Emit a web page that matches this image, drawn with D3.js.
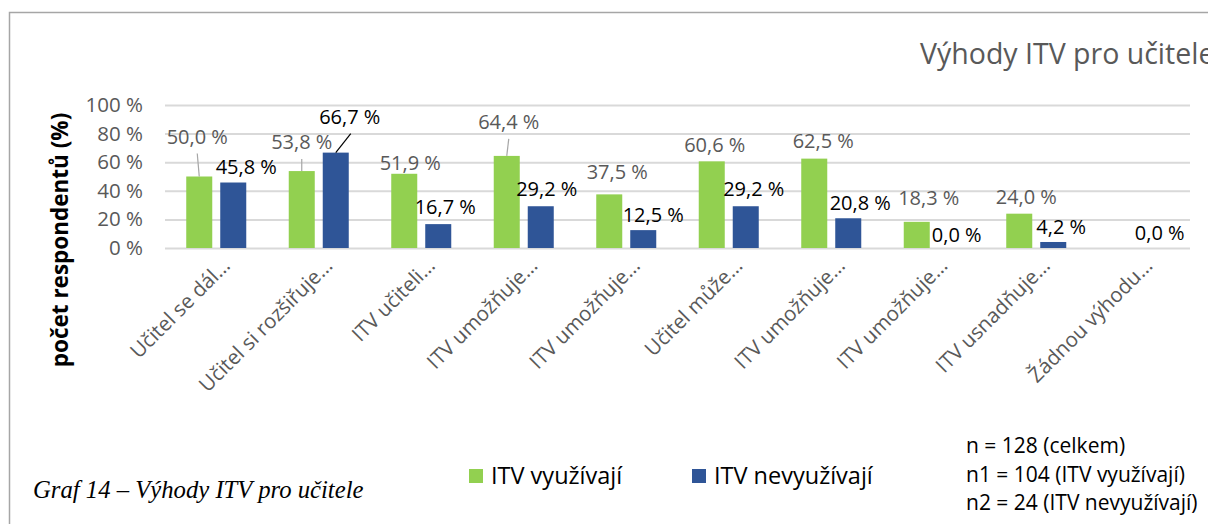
<!DOCTYPE html>
<html>
<head>
<meta charset="utf-8">
<script src="https://cdn.jsdelivr.net/npm/d3@7"></script>
<style>
  body { margin: 0; background: #fff; }
  svg { display: block; font-family: "Open Sans", "Noto Sans", sans-serif; }
</style>
</head>
<body>
<div id="chart"></div>
<script>
// data
var categories = ["Učitel se dál…", "Učitel si rozšiřuje…", "ITV učiteli…", "ITV umožňuje…",
    "ITV umožňuje…", "Učitel může…", "ITV umožňuje…", "ITV umožňuje…", "ITV usnadňuje…", "Žádnou výhodu…"];
var usersValues = [50.0, 53.8, 51.9, 64.4, 37.5, 60.6, 62.5, 18.3, 24.0, null];
var nonUsersValues = [45.8, 66.7, 16.7, 29.2, 12.5, 29.2, 20.8, 0.0, 4.2, 0.0];
var seriesNames = ["ITV využívají", "ITV nevyužívají"];
var yTicks = [0, 20, 40, 60, 80, 100];
var notes = ["n = 128 (celkem)", "n1 = 104 (ITV využívají)", "n2 = 24 (ITV nevyužívají)"];

// label placement (center of label relative to the bar top), like the hand-moved Excel labels
var usersLabelShift = [[-2, -40], [0, -29], [6, -11], [2, -34], [8, -22], [3, -16], [9, -18], [12, -24], [7, -17], [0, 0]];
var nonUsersLabelShift = [[13, -16], [14, -36], [7, -17], [6, -17], [10, -15], [8, -17], [12, -15], [6, -13], [8, -15], [4, -15]];
var usersLeader = [true, true, false, true, false, false, false, false, false, false];
var nonUsersLeader = [false, true, false, false, false, false, false, false, false, false];

var svgWidth = 1208;
var svgHeight = 524;
var green = "#92D050";
var blue = "#2F5597";

var svg = d3.select("#chart")
    .append("svg")
    .attr("width", svgWidth)
    .attr("height", svgHeight);

// chart frame (cut off on right and bottom)
svg.append("rect")
    .attr("x", 9.5)
    .attr("y", 12.5)
    .attr("width", 1400)
    .attr("height", 700)
    .attr("fill", "none")
    .attr("stroke", "#a6a6a6")
    .attr("stroke-width", 1.5);

var x0 = d3.scaleBand()
    .domain(d3.range(categories.length))
    .range([165, 1190]);

var x1 = d3.scaleBand()
    .domain([0, 1])
    .range([0, x0.bandwidth()])
    .paddingInner(0.235)
    .paddingOuter(0.625);

var y = d3.scaleLinear()
    .domain([0, 100])
    .range([248, 105]);

// gridlines
var yAxis = d3.axisLeft(y)
    .tickValues(yTicks)
    .tickSize(-(1190 - 165))
    .tickPadding(22)
    .tickFormat(d => d + " %");

var yg = svg.append("g")
    .attr("transform", "translate(165,0)")
    .call(yAxis);
yg.select(".domain").remove();
yg.selectAll(".tick line").attr("stroke", "#d9d9d9").attr("stroke-width", 2);
yg.selectAll(".tick text")
    .attr("fill", "#595959")
    .style("font-size", "20.5px")
    .style("font-family", "'Open Sans', sans-serif");

// bars
var series = [usersValues, nonUsersValues];
var colors = [green, blue];
series.forEach(function (vals, s) {
    svg.append("g").selectAll("rect")
        .data(vals.map((v, i) => ({ v: v, i: i })).filter(d => d.v !== null))
        .enter()
        .append("rect")
        .attr("x", d => x0(d.i) + x1(s))
        .attr("y", d => y(d.v))
        .attr("width", x1.bandwidth())
        .attr("height", d => y(0) - y(d.v))
        .attr("fill", colors[s]);
});

// data labels
var fmt = v => v.toFixed(1).replace(".", ",") + " %";
var shifts = [usersLabelShift, nonUsersLabelShift];
var leaders = [usersLeader, nonUsersLeader];
var labelColors = ["#595959", "#000"];
series.forEach(function (vals, s) {
    vals.forEach(function (v, i) {
        if (v === null) return;
        var bx = x0(i) + x1(s) + x1.bandwidth() / 2;
        var by = y(v);
        var lx = bx + shifts[s][i][0];
        var ly = by + shifts[s][i][1];
        if (leaders[s][i]) {
            svg.append("line")
                .attr("x1", s === 1 ? lx + 1 : lx)
                .attr("y1", ly + 17)
                .attr("x2", bx)
                .attr("y2", by)
                .attr("stroke", s === 1 ? "#000" : "#a6a6a6")
                .attr("stroke-width", 1.2);
        }
        svg.append("text")
            .attr("x", lx)
            .attr("y", ly)
            .attr("dy", "0.35em")
            .attr("text-anchor", "middle")
            .attr("fill", labelColors[s])
            .style("font-size", "20px")
            .text(fmt(v));
    });
});

// category labels
svg.append("g").selectAll("text")
    .data(categories)
    .enter()
    .append("text")
    .attr("transform", (d, i) => `translate(${x0(i) + x0.bandwidth() / 2 + 15}, 267) rotate(-45)`)
    .attr("text-anchor", "end")
    .attr("fill", "#595959")
    .style("font-size", "20.5px")
    .text(d => d);

// axis title
svg.append("text")
    .attr("transform", "translate(60, 240) rotate(-90)")
    .attr("text-anchor", "middle")
    .attr("dy", "0.35em")
    .style("font-size", "22.5px")
    .style("font-weight", "bold")
    .text("počet respondentů (%)");

// chart title
svg.append("text")
    .attr("x", 920)
    .attr("y", 64)
    .attr("fill", "#595959")
    .style("font-size", "28.5px")
    .text("Výhody ITV pro učitele");

// legend
var legendX = [469, 692];
seriesNames.forEach(function (name, s) {
    svg.append("rect")
        .attr("x", legendX[s])
        .attr("y", 469)
        .attr("width", 14)
        .attr("height", 14)
        .attr("fill", colors[s]);
    svg.append("text")
        .attr("x", legendX[s] + 22)
        .attr("y", 476)
        .attr("dy", "0.35em")
        .style("font-size", "23.5px")
        .text(name);
});

// sample sizes
svg.append("g").selectAll("text")
    .data(notes)
    .enter()
    .append("text")
    .attr("x", 966)
    .attr("y", (d, i) => 446 + i * 28.5)
    .attr("dy", "0.35em")
    .style("font-size", "21px")
    .text(d => d);

// caption
svg.append("text")
    .attr("x", 33)
    .attr("y", 498)
    .style("font-family", "'Liberation Serif', 'DejaVu Serif', serif")
    .style("font-style", "italic")
    .style("font-size", "24.7px")
    .text("Graf 14 – Výhody ITV pro učitele");
</script>
</body>
</html>
